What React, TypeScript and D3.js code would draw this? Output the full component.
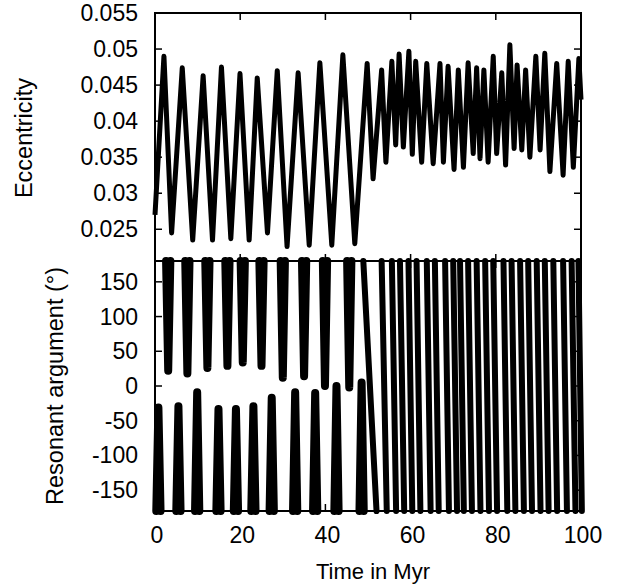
import { useEffect, useRef } from 'react'
import * as d3 from 'd3'

// eccentricity: turning points (time in Myr)
const eccTime = [0, 2.1, 3.9, 6.4, 8.85, 11.3, 13.5, 15.6, 17.8, 19.95, 22.1, 24.0, 26.4, 28.7, 31.0, 33.6, 36.2, 38.7, 41.5, 44.1, 46.9,
  49.8, 51.2, 53.2, 54.2, 55.6, 56.5, 57.3, 58.3, 59.6, 60.4, 61.2, 62.6, 63.8, 65.3, 66.9, 67.7, 68.8, 70.2, 71.2, 72.4,
  73.5, 74.7, 75.5, 76.3, 77.2, 78.2, 79.4, 80.2, 81.4, 82.3, 83.3, 84.3, 85.0, 86.1, 87.0, 88.0, 89.4, 90.4, 91.5, 92.7,
  94.3, 95.8, 97.0, 98.2, 99.5, 100]
const eccValue = [0.027, 0.0490, 0.0245, 0.0474, 0.0235, 0.0463, 0.0235, 0.0475, 0.0237, 0.0466, 0.0235, 0.0460, 0.0245, 0.0470, 0.0226, 0.0467, 0.0228, 0.0481, 0.0228, 0.0492, 0.0230,
  0.0480, 0.0320, 0.0471, 0.0343, 0.0483, 0.0367, 0.0493, 0.0364, 0.0497, 0.0354, 0.0483, 0.0343, 0.0480, 0.0341, 0.0480, 0.0343, 0.0476, 0.0333, 0.0471, 0.0336,
  0.0481, 0.0355, 0.0474, 0.0348, 0.0471, 0.0343, 0.0490, 0.0355, 0.0467, 0.0339, 0.0506, 0.0362, 0.0478, 0.0360, 0.0471, 0.0350, 0.0490, 0.0360, 0.0494, 0.0330,
  0.0480, 0.0325, 0.0483, 0.0336, 0.0487, 0.0430]

// resonant argument, libration phase: tips of the upper and lower columns
const upperTipTime = [3.1, 7.6, 12.3, 17.0, 20.6, 25.0, 30.0, 35.0, 39.9, 45.6]
const upperTipAngle = [22, 18, 26, 29, 34, 29, 12, 14, 0, -2]
const lowerTipTime = [0.8, 5.5, 9.9, 14.9, 19.0, 23.1, 27.4, 32.9, 37.6, 42.6, 48.5]
const lowerTipAngle = [-31, -29, -9, -33, -33, -29, -17, -9, -10, 0, 5]

// circulation phase: time where each streak leaves +180 and reaches -180
const streakTopTime = [48.9, 53.2, 55.6, 57.5, 59.5, 61.4, 63.8, 65.7, 68.1, 70.0, 71.6, 73.5, 75.5, 77.5, 79.4, 81.8, 83.7, 85.7, 87.6, 89.6, 91.5, 93.5, 95.8, 97.8, 99.4]
const streakBottomTime = [52.0, 54.4, 56.6, 58.5, 60.4, 62.3, 64.7, 66.6, 69.0, 70.9, 72.5, 74.4, 76.4, 78.4, 80.3, 82.7, 84.6, 86.6, 88.5, 90.5, 92.4, 94.4, 96.7, 98.7, 100.2]

const xTicks = [0, 20, 40, 60, 80, 100]
const eccTicks = [0.025, 0.03, 0.035, 0.04, 0.045, 0.05, 0.055]
const angleTicks = [-150, -100, -50, 0, 50, 100, 150]

export default function App() {
  const ref = useRef<SVGSVGElement>(null)

  useEffect(() => {
    const width = 620
    const height = 588
    const left = 155
    const right = 581
    const top1 = 13
    const mid = 261
    const bottom2 = 511
    const font = "'Liberation Sans', Arial, sans-serif"
    const tick = 7

    const svg = d3.select(ref.current)
    svg.selectAll('*').remove()
    svg.attr('width', width).attr('height', height)

    const x = d3.scaleLinear().domain([0, 100]).range([left, right])
    const yE = d3.scaleLinear().domain([0.0206, 0.055]).range([mid, top1])
    const yA = d3.scaleLinear().domain([-180, 180]).range([bottom2, mid])

    // upper panel line
    const eccLine = d3.line<number>()
      .x((_, i) => x(eccTime[i]))
      .y(d => yE(d))
    svg.append('path')
      .attr('d', eccLine(eccValue))
      .attr('fill', 'none')
      .attr('stroke', '#000')
      .attr('stroke-width', 5)
      .attr('stroke-linejoin', 'round')

    // lower panel streaks
    const aLine = d3.line<[number, number]>()
      .x(d => x(d[0]))
      .y(d => yA(d[1]))
    const arm = 0.5
    const columns: [number, number][][] = []
    upperTipTime.forEach((t, i) => {
      columns.push([[t - arm, 180], [t, upperTipAngle[i]], [t + arm, 180]])
    })
    lowerTipTime.forEach((t, i) => {
      columns.push([[t - arm, -180], [t, lowerTipAngle[i]], [t + arm, -180]])
    })
    const streaks: [number, number][][] = streakTopTime.map((t, i) => [[t, 180], [streakBottomTime[i], -180]])

    const g = svg.append('g')
      .attr('fill', 'none')
      .attr('stroke', '#000')
      .attr('stroke-linejoin', 'round')
      .attr('stroke-linecap', 'round')
    g.selectAll('path.col')
      .data(columns)
      .join('path')
      .attr('class', 'col')
      .attr('d', d => aLine(d))
      .attr('stroke-width', 8)
    g.selectAll('path.str')
      .data(streaks)
      .join('path')
      .attr('class', 'str')
      .attr('d', d => aLine(d))
      .attr('stroke-width', 6)

    // frames
    const frame = svg.append('g').attr('fill', 'none').attr('stroke', '#000')
    frame.append('rect').attr('x', left).attr('y', top1).attr('width', right - left).attr('height', mid - top1).attr('stroke-width', 2)
    frame.append('rect').attr('x', left).attr('y', mid).attr('width', right - left).attr('height', bottom2 - mid).attr('stroke-width', 2)

    const ticks = svg.append('g').attr('stroke', '#000').attr('stroke-width', 1.5)
    xTicks.slice(1, -1).forEach(t => {
      for (const [y0, dir] of [[top1, 1], [mid, -1], [mid, 1], [bottom2, -1]]) {
        ticks.append('line').attr('x1', x(t)).attr('x2', x(t)).attr('y1', y0).attr('y2', y0 + dir * tick)
      }
    })
    eccTicks.slice(0, -1).forEach(v => {
      ticks.append('line').attr('x1', left).attr('x2', left + tick).attr('y1', yE(v)).attr('y2', yE(v))
      ticks.append('line').attr('x1', right).attr('x2', right - tick).attr('y1', yE(v)).attr('y2', yE(v))
    })
    angleTicks.forEach(v => {
      ticks.append('line').attr('x1', left).attr('x2', left + tick).attr('y1', yA(v)).attr('y2', yA(v))
      ticks.append('line').attr('x1', right).attr('x2', right - tick).attr('y1', yA(v)).attr('y2', yA(v))
    })

    // labels
    const text = svg.append('g').attr('font-family', font).attr('fill', '#000')
    eccTicks.forEach(v => {
      text.append('text').attr('x', 138).attr('y', yE(v)).attr('text-anchor', 'end').attr('font-size', 23)
        .attr('dominant-baseline', 'central').text(String(+v.toFixed(3)))
    })
    angleTicks.forEach(v => {
      text.append('text').attr('x', 138).attr('y', yA(v)).attr('text-anchor', 'end').attr('font-size', 23)
        .attr('dominant-baseline', 'central').text(String(v))
    })
    xTicks.forEach(t => {
      text.append('text').attr('x', x(t) + 2).attr('y', 543).attr('text-anchor', 'middle').attr('font-size', 23).text(String(t))
    })
    text.append('text').attr('x', 373).attr('y', 579).attr('text-anchor', 'middle').attr('font-size', 22).text('Time in Myr')
    text.append('text').attr('transform', `translate(32, 138) rotate(-90)`).attr('font-size', 23.5)
      .attr('text-anchor', 'middle').text('Eccentricity')
    text.append('text').attr('transform', `translate(63, 386) rotate(-90)`).attr('font-size', 23.5)
      .attr('text-anchor', 'middle').text('Resonant argument (°)')
  }, [])

  return (
    <div>
      <svg ref={ref} style={{ position: 'absolute', left: 0, top: 0, background: '#fff' }} />
    </div>
  )
}
